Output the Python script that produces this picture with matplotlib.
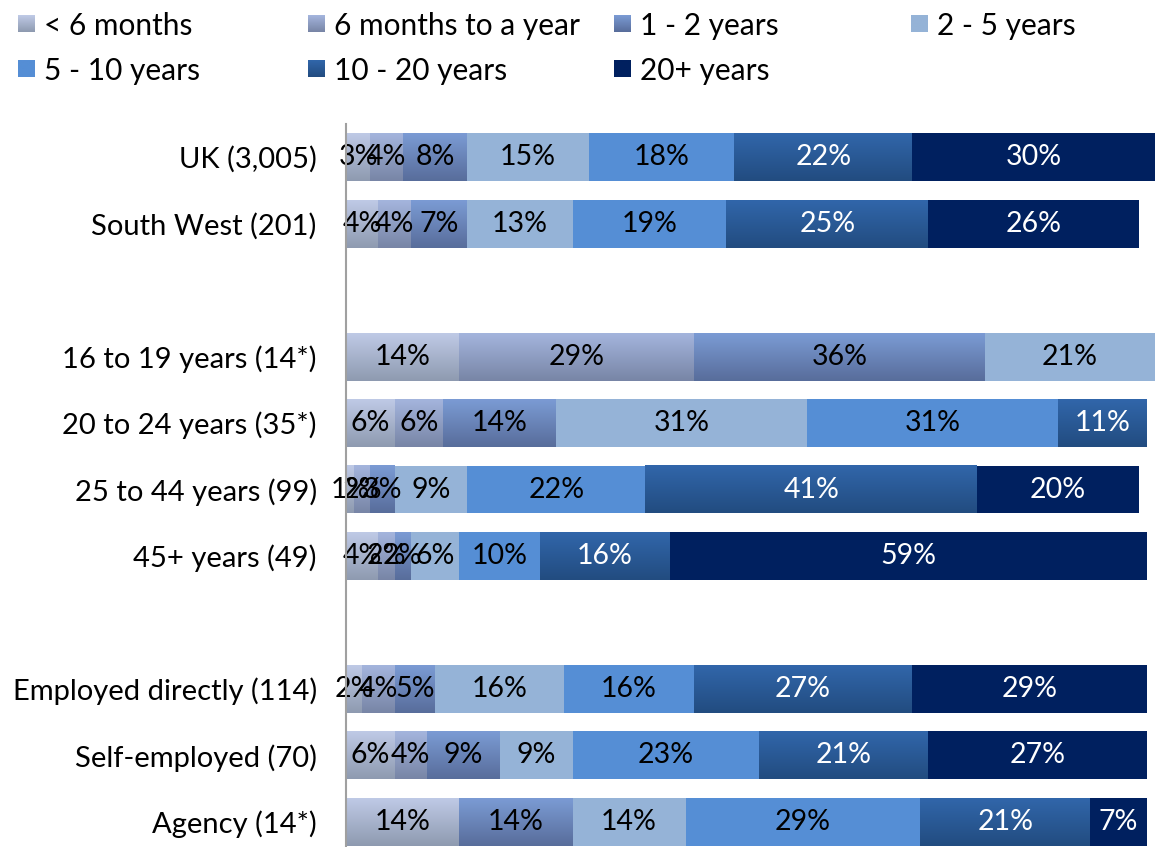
import numpy as np
import matplotlib
matplotlib.use("Agg")
import matplotlib.pyplot as plt
from matplotlib.colors import LinearSegmentedColormap

plt.rcParams['font.family'] = ['Lato', 'DejaVu Sans']

categories = ["UK (3,005)", "South West (201)",
              "16 to 19 years (14*)", "20 to 24 years (35*)",
              "25 to 44 years (99)", "45+ years (49)",
              "Employed directly (114)", "Self-employed (70)", "Agency (14*)"]
series = ["< 6 months", "6 months to a year", "1 - 2 years", "2 - 5 years",
          "5 - 10 years", "10 - 20 years", "20+ years"]

lt6m   = [3, 4, 14, 6, 1, 4, 2, 6, 14]
m6_1y  = [4, 4, 29, 6, 2, 2, 4, 4, 0]
y1_2   = [8, 7, 36, 14, 3, 2, 5, 9, 14]
y2_5   = [15, 13, 21, 31, 9, 6, 16, 9, 14]
y5_10  = [18, 19, 0, 31, 22, 10, 16, 23, 29]
y10_20 = [22, 25, 0, 11, 41, 16, 27, 21, 21]
y20p   = [30, 26, 0, 0, 20, 59, 29, 27, 7]
values = [lt6m, m6_1y, y1_2, y2_5, y5_10, y10_20, y20p]

# row slots (blank rows separate groups)
slots = np.array([0, 1, 3, 4, 5, 6, 8, 9, 10])

# (top colour, bottom colour) - gradients as in the reference
colors = [("#bfcae6", "#8e9ab0"),
          ("#a4b5dd", "#7885a6"),
          ("#7b9bd4", "#586d9b"),
          ("#95b3d7", "#95b3d7"),
          ("#558ed5", "#558ed5"),
          ("#3166aa", "#224c80"),
          ("#00205f", "#00205f")]
text_colors = ["black", "black", "black", "black", "black", "white", "white"]

W, H = 1156, 847
fig = plt.figure(figsize=(W / 100, H / 100), dpi=100)
ax = fig.add_axes([346 / W, 1 - 855 / H, 809 / W, 731 / H])

bar_h = 0.72
left = np.zeros(len(categories))
for i, vals in enumerate(values):
    vals = np.array(vals, dtype=float)
    top_c, bot_c = colors[i]
    bars = ax.barh(slots, vals, left=left, height=bar_h,
                   color=top_c if top_c == bot_c else "none",
                   edgecolor="none", zorder=2)
    if top_c != bot_c:
        cmap = LinearSegmentedColormap.from_list("g%d" % i, [top_c, bot_c])
        grad = np.linspace(0, 1, 64).reshape(-1, 1)
        for b in bars:
            if b.get_width() <= 0:
                continue
            x0 = b.get_x(); x1 = x0 + b.get_width()
            y0 = b.get_y(); y1 = y0 + b.get_height()
            ax.imshow(grad, cmap=cmap, aspect="auto", origin="upper",
                      extent=(x0, x1, y1, y0), zorder=1.5,
                      interpolation="bilinear")
    labels = ["%d%%" % v if v > 0 else "" for v in vals]
    ax.bar_label(bars, labels=labels, label_type="center",
                 color=text_colors[i], fontsize=20.5)
    left += vals

ax.set_xlim(0, 100)
ax.set_ylim(10.5, -0.5)
ax.set_yticks(slots)
ax.set_yticklabels(categories, fontsize=21)
ax.tick_params(axis="y", length=0, pad=21)
ax.set_xticks([])
for s in ["top", "right", "bottom"]:
    ax.spines[s].set_visible(False)
ax.spines["left"].set_color("#a0a0a0")
ax.spines["left"].set_linewidth(1.5)
ax.spines["left"].set_zorder(3)

# legend (two rows, four columns)
leg_x_marker = [18, 308, 614, 911]
leg_y = [24, 69]
msize = 17
for i, name in enumerate(series):
    r, c = divmod(i, 4)
    mx = leg_x_marker[c]
    my = leg_y[r]
    lax = fig.add_axes([mx / W, 1 - (my + msize / 2) / H, msize / W, msize / H])
    top_c, bot_c = colors[i]
    cmap = LinearSegmentedColormap.from_list("l%d" % i, [top_c, bot_c])
    lax.imshow(np.linspace(0, 1, 32).reshape(-1, 1), cmap=cmap, aspect="auto")
    lax.set_axis_off()
    fig.text((mx + msize + 9) / W, 1 - (my + 2) / H, name, fontsize=21.5,
             va="center", ha="left")

fig.savefig("out.png", dpi=100)
